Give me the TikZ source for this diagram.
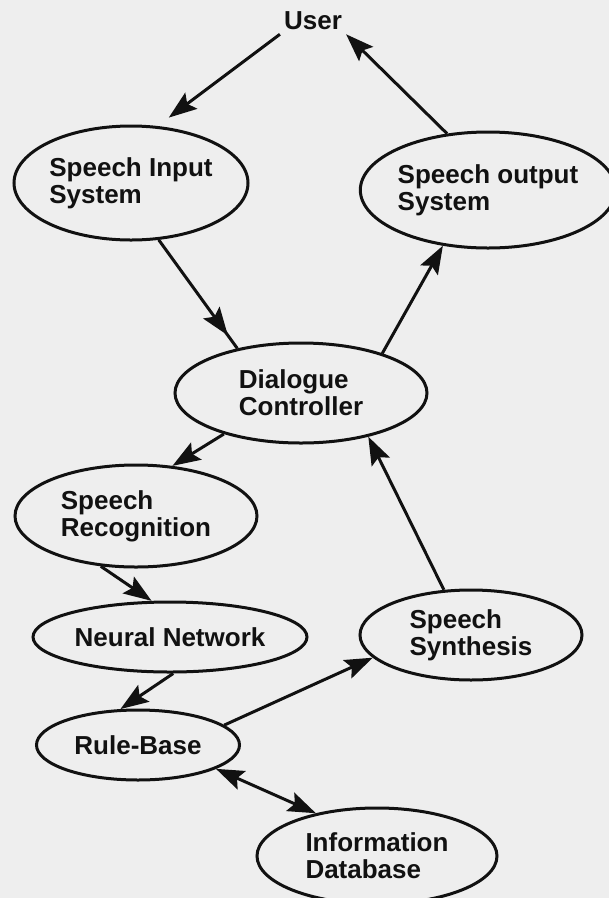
\documentclass[tikz,border=0pt]{standalone}
\usepackage{fontspec}
\setmainfont{Liberation Sans}
\usetikzlibrary{shapes.geometric,arrows.meta,decorations.markings}
\definecolor{paper}{HTML}{EEEEEE}
\definecolor{ink}{HTML}{111111}
\tikzset{
  bubble/.style={ellipse, draw=ink, line width=3pt, inner sep=0pt, align=left,
    text=ink, font=\bfseries\fontsize{26}{27}\selectfont},
  plain/.style={text=ink, inner sep=4pt, font=\bfseries\fontsize{26}{27}\selectfont},
  conn/.style={draw=ink, line width=3pt},
  arr/.style={conn, -{Stealth[length=28pt,width=20pt,inset=5pt]}},
  biarr/.style={conn, {Stealth[length=28pt,width=20pt,inset=5pt]}-{Stealth[length=28pt,width=20pt,inset=5pt]}},
  midarr/.style={conn, postaction={decorate}, decoration={markings,
    mark=at position #1 with {\arrow[ink]{Stealth[length=28pt,width=20pt,inset=5pt]}}}}
}
\begin{document}
\begin{tikzpicture}[x=1pt,y=-1pt]
\useasboundingbox (0,0) rectangle (609,898);
\fill[paper] (0,0) rectangle (609,898);

\node[plain] (user) at (313,21) {User};
\node[bubble, minimum width=234pt, minimum height=114pt] (in) at (131,183) {Speech Input\\System};
\node[bubble, minimum width=232pt, minimum height=116pt] (out) at (488,190) {Speech output\\System};
\node[bubble, minimum width=252pt, minimum height=100pt] (dc) at (301,393) {Dialogue\\Controller};
\node[bubble, minimum width=242pt, minimum height=102pt] (sr) at (136,516) {Speech\\Recognition};
\node[bubble, minimum width=274pt, minimum height=70pt] (nn) at (170,637) {Neural Network};
\node[bubble, minimum width=222pt, minimum height=90pt] (ss) at (471,635) {Speech\\Synthesis};
\node[bubble, minimum width=203pt, minimum height=70pt] (rb) at (138,745) {Rule-Base};
\node[bubble, minimum width=240pt, minimum height=96pt] (db) at (377,856) {Information\\Database};

\draw[arr, shorten >=14pt] (user.south west) -- (in.65);
\draw[arr] (out.126) -- (user.south east);
\draw[midarr=0.88] (in.-64) -- (dc.145);
\draw[arr] (dc.26) -- (out.231);
\draw[arr] (dc.208) -- (sr.54);
\draw[arr] (ss.121) -- (dc.-33);
\draw[arr] (sr.235) -- (nn.117);
\draw[arr] (nn.-85) -- (rb.116);
\draw[arr] (rb.13) -- (ss.193);
\draw[biarr] (rb.-17) -- (db.145);
\end{tikzpicture}
\end{document}
